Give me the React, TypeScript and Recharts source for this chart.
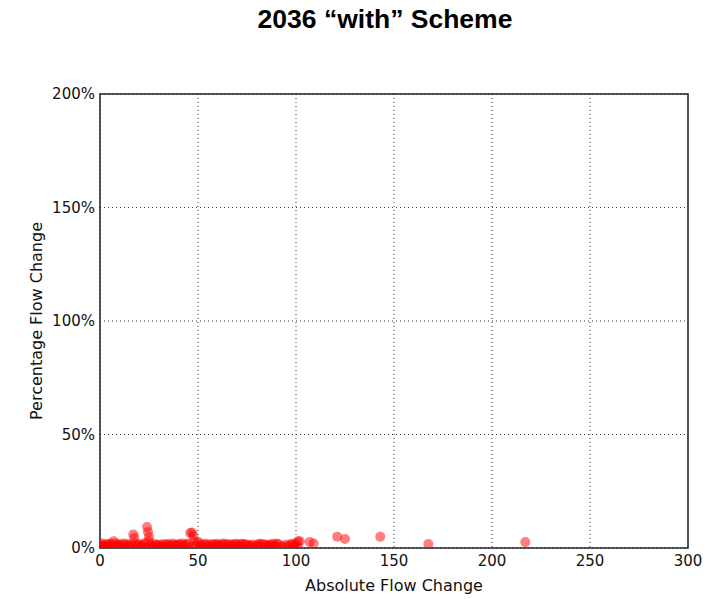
import {
  CartesianGrid,
  ReferenceArea,
  Scatter,
  ScatterChart,
  XAxis,
  YAxis,
} from 'recharts';

// absolute flow change (x) vs percentage flow change (y, %)
const ABS_CHANGE = [
  0, 1, 2, 3, 4, 5, 6, 7, 8, 9, 10, 11, 12, 13, 14, 15, 16, 17, 17.5, 18, 19,
  20, 21, 22, 23, 24, 24.5, 25, 25, 26, 27, 28, 29, 30, 31, 32, 33, 34, 35, 36,
  37, 38, 39, 40, 41, 42, 43, 44, 45, 46, 47, 47.5, 48, 49, 50, 51, 52, 53, 54,
  55, 56, 57, 58, 59, 60, 61, 62, 63, 64, 65, 66, 67, 68, 69, 70, 71, 72, 73,
  74, 75, 76, 77, 78, 80, 81, 82, 83, 84, 85, 86, 87, 88, 89, 90, 91, 93, 95,
  97, 98, 99, 100, 101, 102, 107, 109, 121, 125, 143, 167.5, 217,
];
const PCT_CHANGE = [
  1.5, 2, 1, 1.8, 1.2, 2, 1.5, 3, 2, 1.2, 1.8, 1, 2, 1.4, 1.8, 1, 1.6, 6, 4.5,
  2, 1.2, 1.8, 1, 1.5, 2.2, 9.2, 7, 5, 3, 1.5, 1, 1.8, 1.2, 1.5, 1, 1.6, 1.2,
  1.8, 1.5, 1, 2, 1.4, 1.2, 1.8, 1.5, 2, 1.2, 1.6, 2, 6.6, 6.8, 5.5, 3, 1.5,
  2.8, 1.8, 1.2, 1.5, 1.9, 1, 1.6, 1.2, 1.8, 1.4, 1.9, 1.1, 1.5, 2, 1.4, 1.8,
  1.2, 1.6, 1.2, 1.9, 1.7, 1.2, 1.9, 1.6, 1.8, 1.2, 1.4, 1, 1.5, 1.3, 1.9, 1.6,
  1.8, 1.2, 1.5, 1.1, 1.4, 1.9, 1.2, 2, 1.8, 1, 1.4, 1.5, 1.9, 1.2, 2, 3, 3,
  2.6, 2, 5, 4, 5, 1.8, 2.6,
];
// small changes sitting right on the axis
const ABS_CHANGE_LOW = [
  0, 2, 4, 6, 9, 12, 15, 18, 21, 24, 27, 30, 33, 36, 39, 42, 45, 48, 51, 54,
  57, 60, 63, 66, 69, 72, 75, 78, 81, 84, 87, 90, 93, 96, 99, 101,
];
const PCT_CHANGE_LOW = [
  0.5, 0.3, 0.6, 0.2, 0.5, 0.4, 0.6, 0.3, 0.5, 0.2, 0.6, 0.4, 0.3, 0.5, 0.2,
  0.6, 0.4, 0.5, 0.3, 0.6, 0.2, 0.5, 0.4, 0.3, 0.6, 0.5, 0.2, 0.4, 0.6, 0.3,
  0.5, 0.4, 0.2, 0.5, 0.6, 0.4,
];
const X_TICKS = [0, 50, 100, 150, 200, 250, 300];
const Y_TICKS = [0, 50, 100, 150, 200];

const points = [
  ...ABS_CHANGE_LOW.map((x, i) => ({ x, y: PCT_CHANGE_LOW[i] })),
  ...ABS_CHANGE.map((x, i) => ({ x, y: PCT_CHANGE[i] })),
];

const tickStyle = { fontSize: 15, fill: '#111', fontFamily: 'DejaVu Sans' };

export default function App() {
  return (
    <div
      style={{
        position: 'absolute',
        left: 0,
        top: 0,
        width: 709,
        height: 599,
        background: '#fff',
      }}
    >
      <div
        style={{
          position: 'absolute',
          left: 0,
          width: 770,
          top: 4,
          textAlign: 'center',
          fontFamily: 'Liberation Sans, Arial, sans-serif',
          fontWeight: 'bold',
          fontSize: 26.5,
        }}
      >
        2036 “with” Scheme
      </div>
      <ScatterChart
        width={709}
        height={599}
        margin={{ top: 94, right: 21, left: 40, bottom: 21 }}
      >
        <CartesianGrid stroke="#000" strokeDasharray="1 3" strokeWidth={0.8} />
        <XAxis
          type="number"
          dataKey="x"
          domain={[0, 300]}
          ticks={X_TICKS}
          allowDataOverflow
          tick={tickStyle}
          tickLine={false}
          tickMargin={1}
          height={30}
          axisLine={false}
          label={{
            value: 'Absolute Flow Change',
            position: 'insideBottom',
            offset: -13,
            style: { fontSize: 16, fill: '#111', fontFamily: 'DejaVu Sans' },
          }}
        />
        <YAxis
          type="number"
          dataKey="y"
          domain={[0, 200]}
          ticks={Y_TICKS}
          allowDataOverflow
          tick={tickStyle}
          tickFormatter={(v: number) => `${v}%`}
          tickLine={false}
          tickMargin={-1}
          width={60}
          axisLine={false}
          label={{
            value: 'Percentage Flow Change',
            angle: -90,
            position: 'insideLeft',
            offset: -4,
            style: {
              fontSize: 16,
              fill: '#111',
              fontFamily: 'DejaVu Sans',
              textAnchor: 'middle',
            },
          }}
        />
        <Scatter
          data={points}
          shape={(p: any) => (
            <circle cx={p.cx} cy={p.cy} r={5} fill="#ff0000" fillOpacity={0.5} />
          )}
          isAnimationActive={false}
        />
        <ReferenceArea
          x1={0}
          x2={300}
          y1={0}
          y2={200}
          fill="none"
          stroke="#222"
          strokeWidth={1.5}
          ifOverflow="visible"
        />
      </ScatterChart>
    </div>
  );
}
